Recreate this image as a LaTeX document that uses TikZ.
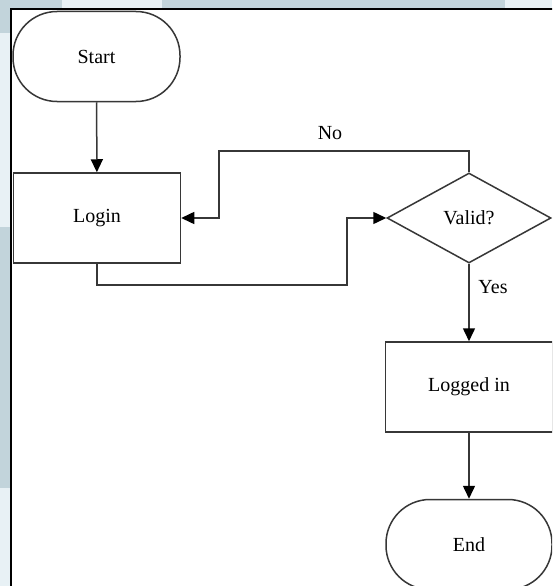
\documentclass[tikz,border=0pt]{standalone}
\usepackage{fontspec}
\setmainfont{Liberation Serif}
\usetikzlibrary{shapes.geometric,arrows.meta}
\definecolor{bgblue}{RGB}{194,212,219}
\definecolor{bglight}{RGB}{232,241,245}
\definecolor{linegrey}{RGB}{55,55,55}
\tikzset{
  box/.style={draw=linegrey,line width=1.5pt,fill=white,minimum width=167pt,minimum height=90pt,inner sep=0pt,font=\fontsize{20}{24}\selectfont},
  term/.style={box,rounded corners=44pt},
  decision/.style={diamond,draw=linegrey,line width=1.5pt,fill=white,minimum width=164pt,minimum height=90pt,inner sep=0pt,shape aspect=1.8,font=\fontsize{20}{24}\selectfont},
  conn/.style={draw=linegrey,line width=1.5pt},
  arr/.style={conn,-{Triangle[length=13pt,width=12pt,color=black]}},
  lbl/.style={font=\fontsize{20}{24}\selectfont,inner sep=0pt}
}
\begin{document}
\begin{tikzpicture}[x=1pt,y=-1pt]
\useasboundingbox (0,0) rectangle (552,586);
\clip (0,0) rectangle (552,586);
% background
\fill[bgblue] (0,0) rectangle (552,586);
\fill[bglight] (62,0) rectangle (162,8);
\fill[bglight] (505,0) rectangle (552,8);
\fill[bglight] (0,33) rectangle (10,227);
\fill[bglight] (0,488) rectangle (10,586);
\fill[white,draw=black,line width=2pt] (11,9) rectangle (600,640);
% nodes
\node[term] (start) at (96.5,56.5) {Start};
\node[box] (login) at (97,218) {Login};
\node[decision] (valid) at (469,218) {Valid?};
\node[box] (logged) at (469,387) {Logged in};
\node[term,minimum width=166pt] (end) at (469,544.5) {End};
\coordinate (nobend) at (219,151);
\coordinate (yesbend) at (347,285);
% connectors
\draw[arr] (start) -- (login);
\draw[arr] (valid.north) |- (nobend) |- (login.east);
\draw[arr] (login.south) |- (yesbend) |- (valid.west);
\draw[arr] (valid.south) -- (logged.north);
\draw[arr] (logged.south) -- (end.north);
% labels
\node[lbl] (nolbl) at (330,133) {No};
\node[lbl] (yeslbl) at (493,287) {Yes};
\end{tikzpicture}
\end{document}
